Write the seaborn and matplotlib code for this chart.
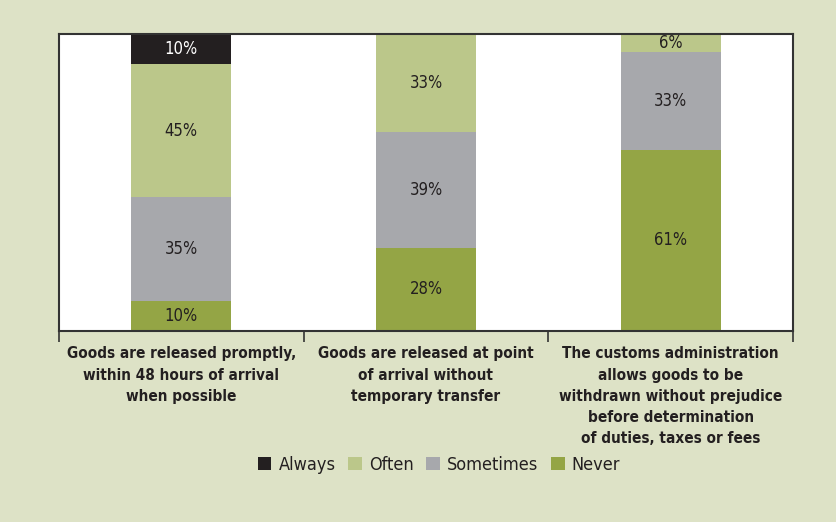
import matplotlib
matplotlib.use("Agg")
import matplotlib.pyplot as plt
from matplotlib.patches import Patch
from matplotlib.ticker import FixedLocator
import pandas as pd
import seaborn as sns

# Survey responses (% of respondents) per trade-facilitation practice
categories = [
    "Goods are released promptly,\nwithin 48 hours of arrival\nwhen possible",
    "Goods are released at point\nof arrival without\ntemporary transfer",
    "The customs administration\nallows goods to be\nwithdrawn without prejudice\nbefore determination\nof duties, taxes or fees",
]
responses = ["Never", "Sometimes", "Often", "Always"]
never = [10, 28, 61]
sometimes = [35, 39, 33]
often = [45, 33, 6]
always = [10, 0, 0]

colors = {
    "Always": "#231f20",
    "Often": "#bbc78a",
    "Sometimes": "#a7a8ac",
    "Never": "#94a545",
}
bg = "#dde2c6"
text_color = "#231f20"

sns.set_theme(style="white")
plt.rcParams["font.family"] = ["DejaVu Sans"]
plt.rcParams["font.stretch"] = "condensed"

values = pd.DataFrame(
    {"Never": never, "Sometimes": sometimes, "Often": often, "Always": always},
    index=categories,
)
cumulative = values[responses].cumsum(axis=1)

fig = plt.figure(figsize=(8.36, 5.22), dpi=100, facecolor=bg)
ax = fig.add_axes([59 / 836, 1 - 331 / 522, (793 - 59) / 836, (331 - 34) / 522])
ax.set_facecolor("white")

# Stack by drawing cumulative totals, tallest layer first
for resp in reversed(responses):
    df = pd.DataFrame({"category": categories, "value": cumulative[resp].values})
    sns.barplot(data=df, x="category", y="value", color=colors[resp],
                width=0.41, saturation=1, ax=ax, linewidth=0, order=categories)

# Segment labels
for i, cat in enumerate(categories):
    base = 0
    for resp in responses:
        v = values.loc[cat, resp]
        if v > 0:
            lab_color = "white" if resp == "Always" else text_color
            ax.text(i, base + v / 2, f"{v}%", ha="center", va="center",
                    fontsize=12, color=lab_color)
        base += v

ax.set_ylim(0, 100)
ax.set_xlim(-0.5, 2.5)
ax.set_yticks([])
ax.set_xlabel("")
ax.set_ylabel("")
ax.set_xticks(range(len(categories)))
ax.set_xticklabels(categories, fontsize=11, fontweight="bold", color=text_color,
                   linespacing=1.52)
ax.tick_params(axis="x", which="major", length=0, pad=11)
ax.xaxis.set_minor_locator(FixedLocator([-0.5, 0.5, 1.5, 2.5]))
ax.tick_params(axis="x", which="minor", length=8, width=1.2, color="#333333",
               direction="out", bottom=True)

for s in ax.spines.values():
    s.set_visible(True)
    s.set_color("#333333")
    s.set_linewidth(1.5)

handles = [Patch(facecolor=colors[r], edgecolor="none", label=r)
           for r in ["Always", "Often", "Sometimes", "Never"]]
fig.legend(handles=handles, loc="center", bbox_to_anchor=(439 / 836, 1 - 465 / 522),
           ncol=4, frameon=False, fontsize=13, handlelength=0.75, handleheight=0.75,
           handletextpad=0.4, columnspacing=0.7, labelcolor=text_color)

fig.savefig("out.png", dpi=100, facecolor=bg)
